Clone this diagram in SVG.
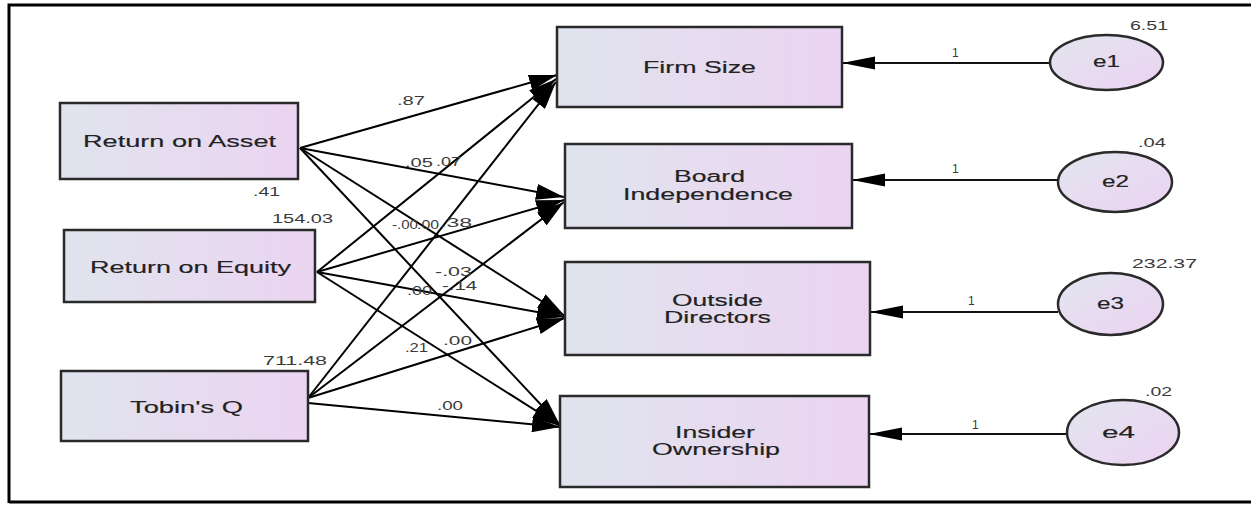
<svg xmlns="http://www.w3.org/2000/svg" width="1251" height="505" viewBox="0 0 1251 505">
<defs>
<linearGradient id="g" x1="0" y1="0" x2="1" y2="0">
<stop offset="0" stop-color="#e0e4ee"/>
<stop offset="1" stop-color="#ebd4f1"/>
</linearGradient>
<linearGradient id="gc" x1="0" y1="0" x2="1" y2="1">
<stop offset="0" stop-color="#e2e6ef"/>
<stop offset="1" stop-color="#ecd2f2"/>
</linearGradient>
<marker id="ah" markerUnits="userSpaceOnUse" markerWidth="28" markerHeight="16" refX="28" refY="8" orient="auto">
<path d="M0,0 L28,8 L0,16 z" fill="#000"/>
</marker>
<marker id="eh" markerUnits="userSpaceOnUse" markerWidth="33" markerHeight="14" refX="33" refY="7" orient="auto">
<path d="M0,0.5 L33,7 L0,13.5 z" fill="#000"/>
</marker>
<style>
.box{fill:url(#g);stroke:#2a2a2a;stroke-width:2.5}
.circ{fill:url(#gc);stroke:#2a2a2a;stroke-width:2.5}
.t{font-family:"Liberation Sans",Arial,sans-serif;font-size:16px;fill:#222;stroke:#222;stroke-width:0.15;text-anchor:middle}
.l{font-family:"Liberation Sans",Arial,sans-serif;font-size:12px;fill:#3a3a3a}
.p{stroke:#000;stroke-width:2;fill:none;marker-end:url(#ah)}
.e{stroke:#111;stroke-width:2;fill:none;marker-end:url(#eh)}
</style>
</defs>
<rect width="1251" height="505" fill="#fff"/>
<path d="M9,503 L9,5 L1251,5" fill="none" stroke="#000" stroke-width="3"/>
<line x1="9" y1="502" x2="1251" y2="502" stroke="#000" stroke-width="3"/>

<g id="connectors">
<line class="p" x1="300" y1="148" x2="557" y2="75"/>
<line class="p" x1="300" y1="148" x2="564" y2="197"/>
<line class="p" x1="300" y1="148" x2="565" y2="316"/>
<line class="p" x1="300" y1="148" x2="560" y2="425"/>
<line class="p" x1="317" y1="272" x2="556" y2="79"/>
<line class="p" x1="317" y1="272" x2="564" y2="200"/>
<line class="p" x1="317" y1="272" x2="565" y2="317"/>
<line class="p" x1="317" y1="272" x2="560" y2="426"/>
<line class="p" x1="308" y1="398" x2="556" y2="82"/>
<line class="p" x1="308" y1="398" x2="564" y2="202"/>
<line class="p" x1="308" y1="398" x2="565" y2="318"/>
<line class="p" x1="308" y1="403" x2="560" y2="427"/>
<line class="e" x1="1050" y1="63" x2="842" y2="63"/>
<line class="e" x1="1058" y1="180" x2="852" y2="180"/>
<line class="e" x1="1058" y1="312" x2="870" y2="312"/>
<line class="e" x1="1067" y1="434" x2="869" y2="434"/>
<text class="l" x="397" y="105" textLength="28" lengthAdjust="spacingAndGlyphs">.87</text>
<text class="l" x="405" y="167" textLength="28" lengthAdjust="spacingAndGlyphs">.05</text>
<text class="l" x="436" y="166" textLength="25" lengthAdjust="spacingAndGlyphs">.07</text>
<text class="l" x="392" y="229" textLength="26" lengthAdjust="spacingAndGlyphs">-.00</text>
<text class="l" x="417" y="229" textLength="22" lengthAdjust="spacingAndGlyphs">.00</text>
<text class="l" x="440" y="227" textLength="32" lengthAdjust="spacingAndGlyphs">.38</text>
<text class="l" x="435" y="276" textLength="37" lengthAdjust="spacingAndGlyphs">-.03</text>
<text class="l" x="407" y="295" textLength="25" lengthAdjust="spacingAndGlyphs">.00</text>
<text class="l" x="442" y="290" textLength="35" lengthAdjust="spacingAndGlyphs">-.14</text>
<text class="l" x="405" y="352" textLength="23" lengthAdjust="spacingAndGlyphs">.21</text>
<text class="l" x="443" y="345" textLength="29" lengthAdjust="spacingAndGlyphs">.00</text>
<text class="l" x="437" y="410" textLength="26" lengthAdjust="spacingAndGlyphs">.00</text>
<text class="l" x="952" y="57" font-size="13">1</text>
<text class="l" x="952" y="173" font-size="13">1</text>
<text class="l" x="968" y="305" font-size="13">1</text>
<text class="l" x="972" y="429" font-size="13">1</text>
</g>

<g id="roa">
<rect class="box" x="60" y="103" width="238" height="76"/>
<text class="t" x="179.5" y="147" textLength="193" lengthAdjust="spacingAndGlyphs">Return on Asset</text>
<text class="l" x="253" y="196" textLength="27" lengthAdjust="spacingAndGlyphs">.41</text>
</g>
<g id="roe">
<rect class="box" x="64" y="230" width="251" height="72"/>
<text class="t" x="190.5" y="273" textLength="201" lengthAdjust="spacingAndGlyphs">Return on Equity</text>
<text class="l" x="272" y="223" textLength="61" lengthAdjust="spacingAndGlyphs">154.03</text>
</g>
<g id="tq">
<rect class="box" x="61" y="371" width="247" height="70"/>
<text class="t" x="186.5" y="413" textLength="113" lengthAdjust="spacingAndGlyphs">Tobin's Q</text>
<text class="l" x="263" y="365" textLength="64" lengthAdjust="spacingAndGlyphs">711.48</text>
</g>
<g id="firmsize">
<rect class="box" x="557" y="27" width="285" height="80"/>
<text class="t" x="699.5" y="73" textLength="113" lengthAdjust="spacingAndGlyphs">Firm Size</text>
</g>
<g id="board">
<rect class="box" x="565" y="144" width="287" height="84"/>
<text class="t" x="709.5" y="182" textLength="71" lengthAdjust="spacingAndGlyphs">Board</text>
<text class="t" x="708" y="200" textLength="170" lengthAdjust="spacingAndGlyphs">Independence</text>
</g>
<g id="outside">
<rect class="box" x="565" y="262" width="305" height="93"/>
<text class="t" x="717.5" y="306" textLength="91" lengthAdjust="spacingAndGlyphs">Outside</text>
<text class="t" x="717.5" y="323" textLength="107" lengthAdjust="spacingAndGlyphs">Directors</text>
</g>
<g id="insider">
<rect class="box" x="560" y="396" width="309" height="91"/>
<text class="t" x="715" y="438" textLength="80" lengthAdjust="spacingAndGlyphs">Insider</text>
<text class="t" x="716" y="455" textLength="128" lengthAdjust="spacingAndGlyphs">Ownership</text>
</g>
<g id="e1">
<ellipse class="circ" cx="1106.5" cy="62.5" rx="56.5" ry="27.5"/>
<text class="t" x="1106.5" y="67" textLength="27" lengthAdjust="spacingAndGlyphs">e1</text>
<text class="l" x="1130" y="30" textLength="38" lengthAdjust="spacingAndGlyphs">6.51</text>
</g>
<g id="e2">
<ellipse class="circ" cx="1115" cy="182" rx="57" ry="30"/>
<text class="t" x="1115.5" y="187" textLength="27" lengthAdjust="spacingAndGlyphs">e2</text>
<text class="l" x="1138" y="147" textLength="28" lengthAdjust="spacingAndGlyphs">.04</text>
</g>
<g id="e3">
<ellipse class="circ" cx="1110.5" cy="304" rx="52.5" ry="31"/>
<text class="t" x="1110.5" y="309" textLength="27" lengthAdjust="spacingAndGlyphs">e3</text>
<text class="l" x="1132" y="268" textLength="65" lengthAdjust="spacingAndGlyphs">232.37</text>
</g>
<g id="e4">
<ellipse class="circ" cx="1123" cy="432.5" rx="56" ry="32.5"/>
<text class="t" x="1118.5" y="438" textLength="33" lengthAdjust="spacingAndGlyphs">e4</text>
<text class="l" x="1145" y="396" textLength="27" lengthAdjust="spacingAndGlyphs">.02</text>
</g>
</svg>
